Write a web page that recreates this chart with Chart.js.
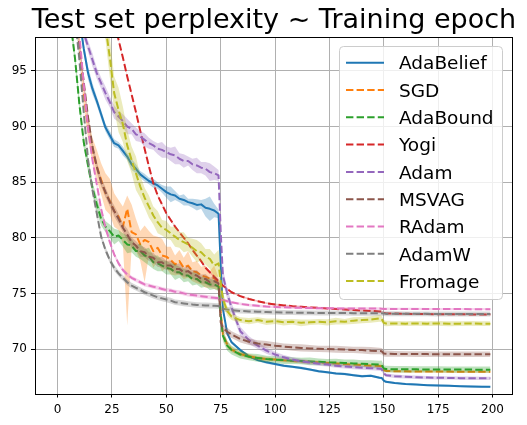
<!DOCTYPE html>
<html><head><meta charset="utf-8">
<script src="https://cdn.jsdelivr.net/npm/chart.js@4.4.1/dist/chart.umd.min.js"></script>
<style>html,body{margin:0;padding:0;background:#fff;overflow:hidden}</style>
</head><body>
<canvas id="c" width="527" height="425"></canvas>
<script>
const chartTitle = 'Test set perplexity ~ Training epoch';
const xTicks = [0, 25, 50, 75, 100, 125, 150, 175, 200];
const yTicks = [70, 75, 80, 85, 90, 95];

const epochs = [0,2,4,6,8,10,12,14,16,18,20,22,24,26,28,30,32,34,36,38,40,42,44,46,48,50,52,54,56,58,60,62,64,66,68,70,72,74,
  75,76,78,
  80,84,88,92,96,100,104,108,112,116,120,124,128,132,136,140,144,148,
  149,150,151,
  155,160,165,170,175,180,185,190,195,199];

const adaBelief = [130,120,112,106,102,99.8,97.0,94.8,93.4,92.3,91.1,89.9,89.2,88.5,88.3,87.8,87.3,86.6,86.2,85.7,85.4,85.1,84.9,84.7,84.4,84.1,83.9,83.8,83.5,83.4,83.2,83.1,82.95,83.0,82.7,82.6,82.45,82.15,
  77.5,73.6,71.4,
  70.6,69.9,69.35,69.0,68.8,68.65,68.5,68.4,68.3,68.15,68.0,67.9,67.8,67.75,67.65,67.55,67.6,67.42,
  67.4,67.15,67.05,
  66.95,66.85,66.8,66.75,66.72,66.7,66.66,66.63,66.61,66.6];
const adaBeliefSpread = [0.5,0.5,0.5,0.5,0.5,0.5,0.5,0.6,0.5,0.4,0.4,0.35,0.4,0.35,0.3,0.4,0.3,0.5,0.4,0.3,0.35,0.3,0.4,0.3,0.35,0.5,0.7,0.4,0.3,0.5,0.3,0.4,0.5,0.4,0.8,1.1,0.6,0.4,
  0.3,0.2,0.15,
  0.15,0.12,0.12,0.1,0.12,0.1,0.12,0.1,0.12,0.1,0.12,0.1,0.1,0.12,0.1,0.12,0.1,0.1,
  0.1,0.12,0.1,
  0.08,0.08,0.08,0.08,0.08,0.08,0.08,0.08,0.08,0.08];

const sgd = [130,119,111,105,101,97.5,93.0,89.8,87.8,86.4,85.2,84.0,83.3,82.4,81.9,81.0,82.6,80.5,80.3,79.4,79.8,79.6,78.8,79.1,78.4,78.3,78.0,77.6,77.9,77.3,77.5,77.0,76.9,76.6,76.5,76.3,76.4,75.9,
  73.3,71.3,70.4,
  69.95,69.55,69.35,69.2,69.1,69.05,68.98,68.92,68.88,68.84,68.8,68.75,68.7,68.65,68.6,68.55,68.5,68.47,
  68.45,68.1,68.03,
  68.0,67.99,67.98,67.98,67.97,67.97,67.96,67.96,67.96,67.95];
const sgdUpperSpread = [1,1,1,1,1,1,1.2,1.0,1.2,1.5,1.5,1.8,2.0,1.6,1.5,1.8,1.2,2.5,1.4,1.2,1.3,1.0,1.4,1.0,1.5,0.9,1.2,0.8,1.0,0.9,1.3,0.8,1.0,0.8,1.0,0.7,1.1,0.5,
  0.5,0.4,0.3,
  0.25,0.2,0.2,0.18,0.2,0.15,0.18,0.15,0.15,0.18,0.15,0.15,0.15,0.15,0.15,0.15,0.15,0.15,
  0.15,0.12,0.12,
  0.1,0.1,0.1,0.1,0.1,0.1,0.1,0.1,0.1,0.1];
const sgdLowerSpread = [1,1,1,1,1,1,1.0,1.0,1.0,1.2,1.3,1.5,1.2,1.4,1.2,1.6,10.5,1.5,1.5,1.5,3.8,1.2,1.5,1.2,1.4,1.0,1.3,1.0,1.2,1.0,1.1,0.9,1.0,0.8,1.0,0.8,1.0,0.6,
  0.5,0.4,0.3,
  0.25,0.2,0.2,0.18,0.2,0.15,0.18,0.15,0.15,0.18,0.15,0.15,0.15,0.15,0.15,0.15,0.15,0.15,
  0.15,0.12,0.12,
  0.1,0.1,0.1,0.1,0.1,0.1,0.1,0.1,0.1,0.1];

const adaBound = [125,113,105,99.3,96.1,92.0,88.6,86.5,84.5,83.0,81.7,81.0,80.6,80.1,80.2,79.8,79.4,79.3,78.8,78.8,78.4,78.3,77.8,77.7,77.5,77.3,77.2,76.9,76.9,76.6,76.6,76.3,76.3,76.0,76.0,75.8,75.8,75.6,
  73.0,71.2,70.3,
  69.9,69.5,69.3,69.2,69.1,69.05,69.0,68.95,68.92,68.88,68.85,68.8,68.78,68.75,68.7,68.68,68.63,68.6,
  68.56,68.25,68.2,
  68.18,68.17,68.17,68.16,68.16,68.15,68.15,68.15,68.14,68.14];
const adaBoundSpread = [0.6,0.6,0.6,0.6,0.6,0.6,0.5,0.6,0.5,0.7,0.6,0.5,0.6,0.7,0.5,0.6,0.8,0.6,0.5,0.7,0.6,0.8,0.6,0.7,0.5,0.6,0.5,0.7,0.5,0.6,0.5,0.6,0.5,0.5,0.4,0.5,0.4,0.4,
  0.5,0.5,0.45,
  0.4,0.35,0.3,0.35,0.3,0.3,0.35,0.3,0.3,0.35,0.3,0.3,0.35,0.3,0.35,0.3,0.35,0.35,
  0.4,0.3,0.3,
  0.3,0.3,0.28,0.28,0.28,0.28,0.28,0.28,0.28,0.28];

const yogi = [160,150,142,135,129,123.5,118.5,114,110.2,107,104.3,102.3,100.9,99.4,97.8,96.2,94.5,92.9,91.3,89.6,88.0,86.4,84.9,83.8,83.0,82.2,81.6,81.0,80.5,80.0,79.5,78.9,78.4,77.9,77.3,76.9,76.5,76.1,
  75.9,75.7,75.4,
  75.1,74.75,74.5,74.3,74.12,74.0,73.92,73.85,73.8,73.74,73.7,73.65,73.6,73.55,73.5,73.46,73.42,73.38,
  73.37,73.25,73.2,
  73.18,73.16,73.15,73.14,73.13,73.12,73.12,73.11,73.11,73.1];
const yogiSpread = [0.08,0.08,0.08,0.08,0.08,0.08,0.08,0.08,0.08,0.08,0.08,0.08,0.08,0.08,0.08,0.08,0.08,0.08,0.08,0.08,0.08,0.08,0.08,0.08,0.08,0.08,0.08,0.08,0.08,0.08,0.08,0.08,0.08,0.08,0.08,0.08,0.08,0.08,
  0.08,0.08,0.08,
  0.08,0.08,0.08,0.08,0.08,0.08,0.08,0.08,0.08,0.08,0.08,0.08,0.08,0.08,0.08,0.08,0.08,0.08,
  0.08,0.08,0.08,
  0.08,0.08,0.08,0.08,0.08,0.08,0.08,0.08,0.08,0.08];

const adam = [135,123,114,107,102.5,99.9,98.4,97.2,96.0,94.8,93.9,93.0,92.2,91.3,90.9,90.5,90.0,89.8,89.3,89.1,88.8,88.5,88.3,88.0,87.9,87.7,87.5,87.4,87.1,86.9,86.9,86.6,86.5,86.3,86.2,85.9,85.8,85.6,
  80.5,76.6,75.0,
  73.7,71.6,70.8,70.3,69.85,69.5,69.25,69.05,68.9,68.78,68.68,68.6,68.5,68.42,68.37,68.32,68.28,68.22,
  68.2,67.8,67.65,
  67.55,67.5,67.46,67.43,67.41,67.4,67.38,67.37,67.36,67.36];
const adamSpread = [0.5,0.5,0.5,0.5,0.5,0.5,0.5,0.5,0.6,0.5,0.5,0.6,0.5,0.6,0.5,0.6,0.7,0.5,0.6,0.5,0.6,0.5,0.4,0.5,0.7,0.5,0.6,0.8,0.5,0.6,0.4,0.5,0.7,0.5,0.6,0.8,0.6,0.5,
  0.6,0.6,0.5,
  0.45,0.4,0.35,0.3,0.28,0.25,0.22,0.2,0.2,0.2,0.18,0.18,0.18,0.18,0.18,0.18,0.18,0.18,
  0.18,0.15,0.15,
  0.15,0.15,0.15,0.15,0.15,0.15,0.15,0.15,0.15,0.15];

const msvag = [130,118,110,104,100.3,97.4,94.0,90.8,88.2,86.4,85.0,84.1,83.2,82.4,81.7,80.9,80.3,79.6,79.3,78.8,78.7,78.3,78.2,77.8,77.8,77.5,77.5,77.2,77.2,76.9,77.0,76.7,76.6,76.3,76.3,76.0,76.1,75.9,
  72.4,71.9,71.55,
  71.3,70.9,70.65,70.5,70.4,70.3,70.22,70.15,70.1,70.05,70.02,70.0,69.98,69.95,69.92,69.9,69.85,69.82,
  69.8,69.6,69.58,
  69.56,69.55,69.54,69.54,69.53,69.53,69.52,69.52,69.52,69.52];
const msvagSpread = [0.4,0.4,0.4,0.4,0.4,0.4,0.4,0.45,0.4,0.5,0.4,0.45,0.4,0.5,0.45,0.4,0.5,0.45,0.4,0.5,0.45,0.4,0.45,0.4,0.5,0.4,0.45,0.4,0.5,0.4,0.45,0.4,0.5,0.4,0.45,0.4,0.5,0.4,
  0.4,0.35,0.35,
  0.3,0.32,0.3,0.28,0.32,0.3,0.28,0.3,0.32,0.3,0.28,0.3,0.32,0.3,0.28,0.3,0.32,0.3,
  0.3,0.28,0.28,
  0.25,0.25,0.25,0.25,0.25,0.25,0.25,0.25,0.25,0.25];

const radam = [130,118,110,104.5,100.8,98.3,93.8,89.8,87.0,84.8,82.6,80.9,79.6,78.5,77.7,77.1,76.7,76.4,76.2,76.0,75.8,75.7,75.6,75.5,75.4,75.3,75.25,75.15,75.1,75.0,74.9,74.85,74.8,74.75,74.7,74.65,74.6,74.55,
  74.45,74.4,74.3,
  74.2,74.05,73.95,73.88,73.82,73.78,73.75,73.72,73.7,73.68,73.67,73.66,73.65,73.65,73.64,73.64,73.63,73.63,
  73.62,73.6,73.6,
  73.6,73.6,73.6,73.59,73.59,73.59,73.59,73.58,73.58,73.58];
const radamSpread = [0.3,0.3,0.3,0.3,0.3,0.3,0.3,0.3,0.3,0.25,0.25,0.25,0.2,0.2,0.2,0.2,0.2,0.18,0.18,0.18,0.18,0.18,0.18,0.18,0.18,0.18,0.18,0.18,0.18,0.18,0.18,0.18,0.18,0.18,0.18,0.18,0.18,0.18,
  0.18,0.15,0.15,
  0.12,0.12,0.12,0.12,0.12,0.12,0.12,0.12,0.12,0.12,0.12,0.12,0.12,0.12,0.12,0.12,0.12,0.12,
  0.12,0.12,0.12,
  0.1,0.1,0.1,0.1,0.1,0.1,0.1,0.1,0.1,0.1];

const adamW = [128,116,108,103,99.8,96.0,91.3,87.0,84.3,82.2,80.1,78.9,78.0,77.3,76.8,76.4,76.0,75.7,75.5,75.3,75.1,74.95,74.8,74.65,74.55,74.45,74.35,74.2,74.15,74.1,74.05,74.0,73.96,73.94,73.92,73.9,73.88,73.86,
  73.7,73.62,73.55,
  73.5,73.42,73.38,73.35,73.32,73.3,73.28,73.27,73.26,73.25,73.24,73.24,73.23,73.23,73.22,73.22,73.22,73.21,
  73.21,73.18,73.17,
  73.17,73.16,73.16,73.16,73.15,73.15,73.15,73.15,73.15,73.15];
const adamWSpread = [0.3,0.3,0.3,0.3,0.3,0.3,0.3,0.3,0.3,0.3,0.28,0.28,0.28,0.28,0.26,0.26,0.26,0.26,0.25,0.25,0.25,0.25,0.25,0.25,0.25,0.25,0.25,0.25,0.25,0.25,0.25,0.25,0.25,0.25,0.25,0.25,0.25,0.25,
  0.25,0.25,0.25,
  0.22,0.22,0.22,0.22,0.22,0.22,0.22,0.22,0.22,0.22,0.22,0.22,0.22,0.22,0.22,0.22,0.22,0.22,
  0.22,0.22,0.22,
  0.22,0.22,0.22,0.22,0.22,0.22,0.22,0.22,0.22,0.22];

const fromage = [150,140,132,125,119,114,110,106.5,103.5,101.2,100.2,99.0,96.2,93.0,91.5,90.2,88.3,87.0,85.8,84.6,83.6,82.8,82.0,81.4,80.9,80.7,80.4,80.1,79.8,79.6,79.4,79.1,78.8,78.7,78.3,78.1,77.5,77.7,
  76.0,74.5,73.4,
  72.9,72.6,72.5,72.6,72.45,72.5,72.4,72.45,72.35,72.4,72.45,72.4,72.5,72.45,72.55,72.6,72.65,72.75,
  72.7,72.35,72.3,
  72.3,72.28,72.3,72.28,72.3,72.27,72.28,72.3,72.28,72.28];
const fromageSpread = [1.0,1.0,1.0,1.0,1.0,1.0,1.0,1.0,1.0,1.0,1.0,1.2,1.8,1.5,2.0,1.6,1.4,1.2,1.5,1.0,0.9,1.0,0.8,1.0,0.7,0.8,0.6,0.9,0.7,0.9,0.6,0.8,1.0,0.8,0.7,0.9,1.0,1.2,
  0.9,0.6,0.4,
  0.3,0.25,0.28,0.25,0.3,0.25,0.28,0.25,0.3,0.25,0.25,0.28,0.3,0.25,0.3,0.28,0.3,0.3,
  0.3,0.25,0.25,
  0.22,0.22,0.22,0.22,0.22,0.22,0.22,0.22,0.22,0.22];

const DASH = [7.4, 3.2];
const seriesDefs = [
  {label:'AdaBelief', y:adaBelief, lo:adaBeliefSpread, hi:adaBeliefSpread, rgb:'31,119,180', dash:[]},
  {label:'SGD', y:sgd, lo:sgdLowerSpread, hi:sgdUpperSpread, rgb:'255,127,14', dash:DASH},
  {label:'AdaBound', y:adaBound, lo:adaBoundSpread, hi:adaBoundSpread, rgb:'44,160,44', dash:DASH},
  {label:'Yogi', y:yogi, lo:yogiSpread, hi:yogiSpread, rgb:'214,39,40', dash:DASH},
  {label:'Adam', y:adam, lo:adamSpread, hi:adamSpread, rgb:'148,103,189', dash:DASH},
  {label:'MSVAG', y:msvag, lo:msvagSpread, hi:msvagSpread, rgb:'140,86,75', dash:DASH},
  {label:'RAdam', y:radam, lo:radamSpread, hi:radamSpread, rgb:'227,119,194', dash:DASH},
  {label:'AdamW', y:adamW, lo:adamWSpread, hi:adamWSpread, rgb:'127,127,127', dash:DASH},
  {label:'Fromage', y:fromage, lo:fromageSpread, hi:fromageSpread, rgb:'188,189,34', dash:DASH}
];

const datasets = [];
let ord = 1000;
seriesDefs.forEach(s => {
  datasets.push({label: s.label + ' (lower)', isBand: true,
    data: epochs.map((e, i) => ({x: e, y: s.y[i] - s.lo[i]})),
    borderWidth: 0, borderColor: 'rgba(0,0,0,0)', pointRadius: 0, fill: false, order: ord--});
  datasets.push({label: s.label + ' (upper)', isBand: true,
    data: epochs.map((e, i) => ({x: e, y: s.y[i] + s.hi[i]})),
    borderWidth: 0, borderColor: 'rgba(0,0,0,0)', pointRadius: 0, fill: '-1',
    backgroundColor: 'rgba(' + s.rgb + ',0.3)', order: ord--});
  datasets.push({label: s.label, isBand: false, legendDash: s.dash,
    data: epochs.map((e, i) => ({x: e, y: s.y[i]})),
    borderColor: 'rgb(' + s.rgb + ')', borderWidth: 2, borderDash: s.dash,
    borderJoinStyle: 'round', pointRadius: 0, fill: false, tension: 0, order: ord--});
});

const framePlugin = {
  id: 'frameLegendTitle',
  afterDraw(chart) {
    const ctx = chart.ctx, a = chart.chartArea;
    ctx.save();
    ctx.strokeStyle = '#000';
    ctx.lineWidth = 1;
    ctx.strokeRect(Math.round(a.left) - 0.5, Math.round(a.top) - 0.5, Math.round(a.right) - Math.round(a.left) + 1, Math.round(a.bottom) - Math.round(a.top) + 1);
    ctx.fillStyle = '#000';
    ctx.font = '27px "DejaVu Sans"';
    ctx.textAlign = 'center';
    ctx.textBaseline = 'alphabetic';
    ctx.fillText(chartTitle, (a.left + a.right) / 2, 28);
    const bx = 339.5, by = 46.5, bw = 163, bh = 253, r = 4;
    ctx.beginPath();
    ctx.moveTo(bx + r, by); ctx.lineTo(bx + bw - r, by); ctx.quadraticCurveTo(bx + bw, by, bx + bw, by + r);
    ctx.lineTo(bx + bw, by + bh - r); ctx.quadraticCurveTo(bx + bw, by + bh, bx + bw - r, by + bh);
    ctx.lineTo(bx + r, by + bh); ctx.quadraticCurveTo(bx, by + bh, bx, by + bh - r);
    ctx.lineTo(bx, by + r); ctx.quadraticCurveTo(bx, by, bx + r, by);
    ctx.closePath();
    ctx.fillStyle = 'rgba(255,255,255,0.8)';
    ctx.fill();
    ctx.strokeStyle = '#cccccc';
    ctx.lineWidth = 1;
    ctx.stroke();
    const lines = chart.data.datasets.filter(d => !d.isBand);
    ctx.font = '18.5px "DejaVu Sans"';
    ctx.textAlign = 'left';
    lines.forEach((d, i) => {
      const yy = 62.7 + i * 27.3;
      ctx.beginPath();
      ctx.setLineDash(d.legendDash);
      ctx.strokeStyle = d.borderColor;
      ctx.lineWidth = 2;
      ctx.moveTo(346, yy); ctx.lineTo(384, yy);
      ctx.stroke();
      ctx.setLineDash([]);
      ctx.fillStyle = '#000';
      ctx.fillText(d.label, 399, yy + 6.7);
    });
    ctx.restore();
  }
};

Chart.defaults.font.family = '"DejaVu Sans"';
new Chart(document.getElementById('c'), {
  type: 'line',
  data: { datasets },
  options: {
    responsive: false,
    animation: false,
    events: [],
    devicePixelRatio: 1,
    layout: { padding: { top: 37.5, right: 15, left: 0, bottom: 0 } },
    plugins: { legend: { display: false }, title: { display: false }, tooltip: { enabled: false } },
    scales: {
      x: {
        type: 'linear', min: -9.95, max: 208.95,
        afterBuildTicks: s => { s.ticks = xTicks.map(v => ({ value: v })); },
        afterFit: s => { s.height = 31.5; },
        grid: { color: '#b0b0b0', lineWidth: 1, tickLength: 4, tickColor: '#000', tickWidth: 1 },
        border: { display: false },
        ticks: { color: '#000', font: { size: 12 }, padding: 5, maxRotation: 0, autoSkip: false, callback: v => String(v) }
      },
      y: {
        type: 'linear', min: 66, max: 98,
        afterBuildTicks: s => { s.ticks = yTicks.map(v => ({ value: v })); },
        afterFit: s => { s.width = 36; },
        grid: { color: '#b0b0b0', lineWidth: 1, tickLength: 5, tickColor: '#000', tickWidth: 1 },
        border: { display: false },
        ticks: { color: '#000', font: { size: 12 }, padding: 4, autoSkip: false, callback: v => String(v) }
      }
    }
  },
  plugins: [framePlugin]
});
</script>
</body></html>
